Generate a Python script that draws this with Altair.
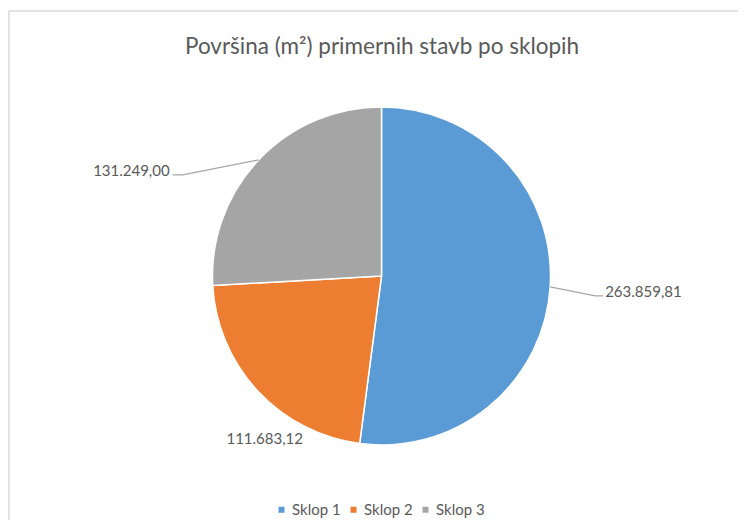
import altair as alt
import pandas as pd
import numpy as np

# ---- data -------------------------------------------------------------
categories = ["Sklop 1", "Sklop 2", "Sklop 3"]
values = [263859.81, 111683.12, 131249.00]
value_labels = ["263.859,81", "111.683,12", "131.249,00"]
colors = ["#5B9BD5", "#ED7D31", "#A5A5A5"]
title_text = "Površina (m²) primernih stavb po sklopih"

# ---- layout / styling ---------------------------------------------------
R = 169
W = H = 2 * R
PAD_L, PAD_T = 204.5, 99
TOTAL_W, TOTAL_H = 730, 512
TEXT = "#595959"
FONT = "Lato"

# label offset from the slice's outer mid-point (px), alignment, leader bends
label_style = {
    "Sklop 1": dict(off=(55, 5.5), align="left", leader=[(45, 9), (53, 9)]),
    "Sklop 2": dict(off=(7, 47.5), align="center", leader=[]),
    "Sklop 3": dict(off=(-89, 11), align="right", leader=[(-76, 15), (-86, 15)]),
}

df = pd.DataFrame({"cat": categories, "value": values, "label": value_labels})

# mid-angle of each slice (clockwise from 12 o'clock)
frac = np.array(values) / np.sum(values)
cum = np.cumsum(frac)
mid = (cum - frac / 2) * 2 * np.pi
edge_x = R * np.sin(mid)
edge_y = -R * np.cos(mid)

lab_rows, lead_rows = [], []
for i, c in enumerate(categories):
    st = label_style[c]
    lab_rows.append(dict(cat=c, label=value_labels[i],
                         x=edge_x[i] + st["off"][0], y=edge_y[i] + st["off"][1],
                         align=st["align"]))
    if st["leader"]:
        lead_rows.append(dict(cat=c, o=0, x=edge_x[i], y=edge_y[i]))
        for k, (dx, dy) in enumerate(st["leader"]):
            lead_rows.append(dict(cat=c, o=k + 1, x=edge_x[i] + dx, y=edge_y[i] + dy))
lab_df = pd.DataFrame(lab_rows)
lead_df = pd.DataFrame(lead_rows)

xs = alt.Scale(domain=[-R, R], range=[0, W], nice=False, zero=False)
ys = alt.Scale(domain=[-R, R], range=[0, H], nice=False, zero=False)

pie = alt.Chart(df).mark_arc(outerRadius=R, stroke="white", strokeWidth=1.5).encode(
    theta=alt.Theta("value:Q", stack=True),
    color=alt.Color(
        "cat:N",
        scale=alt.Scale(domain=categories, range=colors),
        legend=alt.Legend(
            orient="none", legendX=61.5, legendY=395, direction="horizontal",
            title=None, symbolType="square", symbolSize=36, symbolStrokeWidth=0,
            labelFont=FONT, labelFontSize=15, labelColor=TEXT,
            columnPadding=5, labelOffset=3, padding=0,
        ),
    ),
    order=alt.Order("cat:N"),
)

leaders = alt.Chart(lead_df).mark_line(color="#A6A6A6", strokeWidth=1.3).encode(
    x=alt.X("x:Q", scale=xs, axis=None),
    y=alt.Y("y:Q", scale=ys, axis=None),
    detail="cat:N",
    order="o:Q",
)

def label_layer(align):
    return alt.Chart(lab_df[lab_df["align"] == align]).mark_text(
        align=align, baseline="middle", font=FONT, fontSize=15, color=TEXT
    ).encode(
        x=alt.X("x:Q", scale=xs, axis=None),
        y=alt.Y("y:Q", scale=ys, axis=None),
        text="label:N",
    )

one = pd.DataFrame({"k": [0]})
frame_top = alt.Chart(one).mark_rule(color="#D9D9D9", strokeWidth=1.5).encode(
    x=alt.value(-PAD_L + 1), x2=alt.value(TOTAL_W - PAD_L), y=alt.value(-96)
)
frame_left = alt.Chart(one).mark_rule(color="#D9D9D9", strokeWidth=1.5).encode(
    x=alt.value(-PAD_L + 1), y=alt.value(-96), y2=alt.value(TOTAL_H - PAD_T)
)
title = alt.Chart(one).mark_text(
    font=FONT, fontSize=22.5, color=TEXT, align="center", baseline="alphabetic"
).encode(x=alt.value(W / 2 + 0.5), y=alt.value(-53), text=alt.value(title_text))

chart = alt.layer(
    frame_top, frame_left, title, pie, leaders,
    label_layer("left"), label_layer("center"), label_layer("right"),
).properties(
    width=W, height=H,
    autosize="none",
    padding={"left": PAD_L, "top": PAD_T,
             "right": TOTAL_W - PAD_L - W, "bottom": TOTAL_H - PAD_T - H},
).configure_view(stroke=None)

chart.save("out.html", embed_options={"renderer": "svg", "actions": False})
